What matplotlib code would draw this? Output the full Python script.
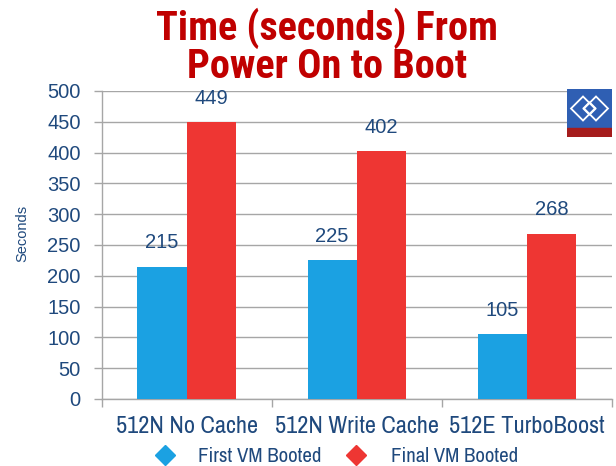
import matplotlib
matplotlib.use("Agg")
import matplotlib.pyplot as plt
from matplotlib import font_manager
from matplotlib.patches import Rectangle, Polygon
from matplotlib.lines import Line2D

categories = ["512N No Cache", "512N Write Cache", "512E TurboBoost"]
first_vm = [215, 225, 105]
final_vm = [449, 402, 268]
series_names = ["First VM Booted", "Final VM Booted"]
yticks = [0, 50, 100, 150, 200, 250, 300, 350, 400, 450, 500]
title_lines = ["Time (seconds) From", "Power On to Boot"]

fl = font_manager.fontManager.ttflist
names = {f.name for f in fl}
bold_names = {f.name for f in fl if (f.weight if isinstance(f.weight, int) else 400) >= 700
              or f.weight == "bold" and f.style == "normal"}

def pick(cands, pool):
    for c in cands:
        if c in pool:
            return c
    return "Liberation Sans"

NARROW = pick(["Archivo Narrow", "Roboto Condensed", "Barlow Semi Condensed"], names)
TITLEF = pick(["Roboto Condensed", "Archivo Narrow", "Barlow Semi Condensed", "Asap Condensed"], bold_names)
SANS = "Liberation Sans"

BLUE = "#1BA1E2"
RED = "#EE3633"
TXT = "#1F497D"
TITLE = "#C00000"
GRID = "#A6A6A6"

W, H = 616, 466
fig = plt.figure(figsize=(W/100, H/100), dpi=100)
renderer = fig.canvas.get_renderer()

ax = fig.add_axes([101.7/W, (H-399)/H, (612-101.7)/W, (399-91)/H])

x = list(range(len(categories)))
w = 0.29
b1 = ax.bar([i - w/2 for i in x], first_vm, width=w, color=BLUE, zorder=3)
b2 = ax.bar([i + w/2 for i in x], final_vm, width=w, color=RED, zorder=3)

for bars, vals in ((b1, first_vm), (b2, final_vm)):
    for r, v in zip(bars, vals):
        ax.annotate(str(v), (r.get_x() + r.get_width()/2, v), xytext=(0, 10.5),
                    textcoords="offset points", ha="center", va="bottom",
                    fontsize=14.5, color=TXT, family=SANS)

ax.set_xlim(-0.5, len(categories) - 0.5)
ax.set_ylim(0, 500)
ax.set_yticks(yticks)
ax.set_yticklabels([str(t) for t in yticks], fontsize=14.5, color=TXT, family=SANS)
ax.tick_params(axis="y", length=6, pad=9, color=GRID, width=1)
ax.set_xticks(x)
ax.set_xticklabels([])
ax.set_xticks([i - 0.5 for i in range(len(categories) + 1)], minor=True)
ax.tick_params(axis="x", which="major", length=0)
ax.tick_params(axis="x", which="minor", length=6, color=GRID, width=1)
ax.grid(axis="y", color=GRID, linewidth=1, zorder=0)
ax.set_axisbelow(True)
for s in ("top", "right"):
    ax.spines[s].set_visible(False)
for s in ("left", "bottom"):
    ax.spines[s].set_color(GRID)
    ax.spines[s].set_linewidth(1)

# category labels, under each category centre
base_fs = None
for i, c in enumerate(categories):
    xc = 101.7 + (i + 0.5) * (612 - 101.7) / len(categories)
    t = fig.text(xc/W, 1 - 433/H, c, ha="center", va="baseline", fontsize=15,
                 color=TXT, family=NARROW)
    if i == 0:
        bb = t.get_window_extent(renderer=renderer)
        base_fs = 15 * 142 / bb.width
    t.set_fontsize(base_fs)

fig.text(22/W, 1 - 233/H, "Seconds", rotation=90, ha="center", va="center",
         fontsize=10.5, color=TXT, family=SANS)

# title, two lines, sized so the first line spans the reference width
t1 = fig.text(327/W, 1 - 40/H, title_lines[0], ha="center", va="baseline", fontsize=28,
              color=TITLE, family=TITLEF, fontweight="bold")
bb = t1.get_window_extent(renderer=renderer)
tfs = 28 * 343 / bb.width
t1.set_fontsize(tfs)
fig.text(327/W, 1 - 78/H, title_lines[1], ha="center", va="baseline", fontsize=tfs,
         color=TITLE, family=TITLEF, fontweight="bold")

# legend
leg_marker_x = [165, 356]
leg_text_x = [198, 391]
lt = []
for mx, tx, c, nm in zip(leg_marker_x, leg_text_x, (BLUE, RED), series_names):
    fig.add_artist(Line2D([mx/W], [1 - 455/H], marker="D", linestyle="none",
                          color=c, markersize=10, transform=fig.transFigure))
    lt.append(fig.text(tx/W, 1 - 462/H, nm, ha="left", va="baseline", fontsize=14,
                       color=TXT, family=NARROW))
bb = lt[1].get_window_extent(renderer=renderer)
fs = 14 * 127 / bb.width
for t in lt:
    t.set_fontsize(fs)

# logo
lax = fig.add_axes([567/W, (H-137)/H, 45/W, 48/H])
lax.set_xlim(0, 45)
lax.set_ylim(0, 48)
lax.axis("off")
lax.add_patch(Rectangle((0, 9), 45, 39, color="#2F5FB3"))
lax.add_patch(Rectangle((0, 0), 45, 9, color="#A51C1C"))
for cx in (16, 29):
    lax.add_patch(Polygon([(cx-12, 28.5), (cx, 40.5), (cx+12, 28.5), (cx, 16.5)],
                          closed=True, fill=False, edgecolor="white", linewidth=1.3))
lax.add_patch(Polygon([(22.5, 22), (29, 28.5), (22.5, 35), (16, 28.5)],
                      closed=True, fill=False, edgecolor="white", linewidth=1.0))

fig.savefig("out.png", dpi=100)
